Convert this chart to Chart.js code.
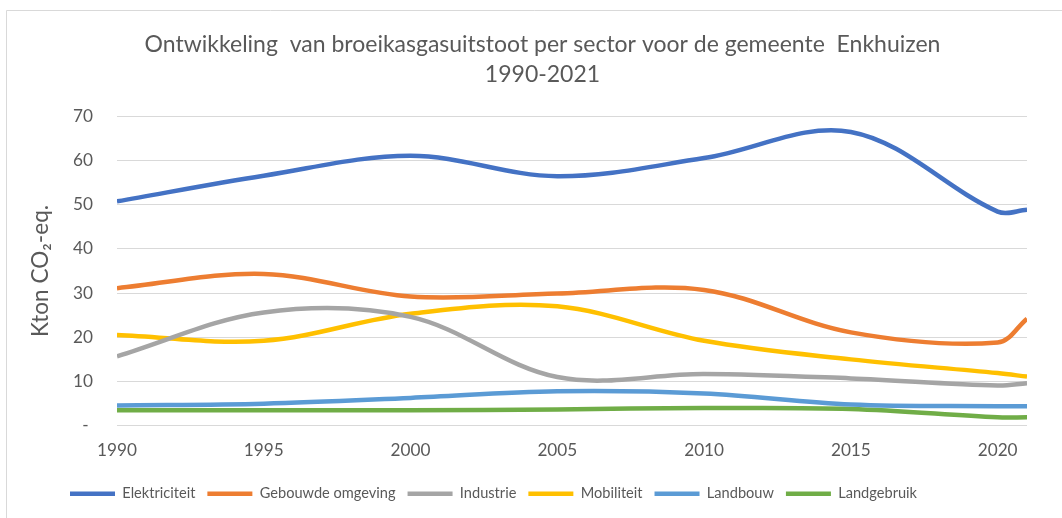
<!DOCTYPE html>
<html>
<head>
<meta charset="utf-8">
<script src="https://cdn.jsdelivr.net/npm/chart.js@4"></script>
<style>
html,body{margin:0;padding:0;background:#fff;}
#wrap{width:1062px;height:518px;position:relative;}
</style>
</head>
<body>
<div id="wrap"><canvas id="c" width="1062" height="518"></canvas></div>
<script>
// ---- data ----
const years = [1990, 1995, 2000, 2005, 2010, 2015, 2020, 2021];
const elektriciteit = [50.7, 56.5, 61.0, 56.4, 60.5, 66.4, 48.4, 48.8];
const gebouwdeOmgeving = [31.1, 34.3, 29.2, 29.9, 30.7, 21.1, 18.8, 24.2];
const industrie = [15.7, 25.6, 24.6, 11.0, 11.7, 10.7, 9.1, 9.6];
const mobiliteit = [20.5, 19.2, 25.3, 27.0, 19.2, 15.0, 11.9, 11.1];
const landbouw = [4.6, 5.0, 6.3, 7.8, 7.3, 4.8, 4.4, 4.4];
const landgebruik = [3.5, 3.5, 3.5, 3.7, 4.0, 3.8, 1.9, 1.9];
const seriesNames = ['Elektriciteit', 'Gebouwde omgeving', 'Industrie', 'Mobiliteit', 'Landbouw', 'Landgebruik'];
const xTickLabels = [1990, 1995, 2000, 2005, 2010, 2015, 2020];
const yTickLabels = [0, 10, 20, 30, 40, 50, 60, 70];
const titleLines = ['Ontwikkeling  van broeikasgasuitstoot per sector voor de gemeente  Enkhuizen', '1990-2021'];
const yTitle = 'Kton CO\u2082-eq.';

// ---- styling ----
const FONT = 'Lato';
const TEXT = '#595959';
const colors = ['#4472C4', '#ED7D31', '#A5A5A5', '#FFC000', '#5B9BD5', '#70AD47'];

function fitSize(text, target) {
  const ctx = document.createElement('canvas').getContext('2d');
  ctx.font = '100px ' + FONT;
  return Math.round(1000 * target / ctx.measureText(text).width) / 10;
}
const titleSize = fitSize(titleLines[0], 795);
const tickSize = fitSize('2010', 40);
const legendSize = fitSize('Gebouwde omgeving', 136);
const yTitleSize = fitSize(yTitle, 132);

const allSeries = [elektriciteit, gebouwdeOmgeving, industrie, mobiliteit, landbouw, landgebruik];
const datasets = allSeries.map((vals, i) => ({
  label: seriesNames[i],
  data: years.map((yr, j) => ({ x: yr, y: vals[j] })),
  borderColor: colors[i],
  backgroundColor: colors[i],
  borderWidth: 4.5,
  pointRadius: 0,
  pointHoverRadius: 0,
  fill: false,
  tension: 0.35
}));

const framePlugin = {
  id: 'frame',
  beforeDraw(chart) {
    const ctx = chart.ctx;
    ctx.save();
    ctx.fillStyle = '#ffffff';
    ctx.fillRect(0, 0, chart.width, chart.height);
    ctx.strokeStyle = '#d9d9d9';
    ctx.lineWidth = 1;
    ctx.beginPath();
    ctx.moveTo(6.5, chart.height);
    ctx.lineTo(6.5, 10.5);
    ctx.lineTo(chart.width, 10.5);
    ctx.stroke();
    ctx.restore();
  }
};

new Chart(document.getElementById('c'), {
  type: 'line',
  data: { datasets },
  options: {
    responsive: false,
    animation: false,
    devicePixelRatio: 1,
    layout: { padding: { left: 58, right: 35, top: 0, bottom: 7 } },
    plugins: {
      title: {
        display: true,
        text: titleLines,
        color: TEXT,
        font: { family: FONT, size: titleSize, weight: 'normal', lineHeight: 30 / titleSize },
        padding: { top: 30, bottom: 26 }
      },
      legend: {
        position: 'bottom',
        align: 'start',
        labels: {
          usePointStyle: true,
          pointStyle: 'line',
          pointStyleWidth: 45,
          boxHeight: 4,
          padding: 12,
          color: TEXT,
          font: { family: FONT, size: legendSize }
        }
      },
      tooltip: { enabled: false }
    },
    scales: {
      x: {
        type: 'linear',
        min: years[0],
        max: years[years.length - 1],
        afterBuildTicks(scale) { scale.ticks = xTickLabels.map(v => ({ value: v })); },
        grid: { display: false, drawTicks: false },
        border: { display: false },
        ticks: {
          color: TEXT,
          font: { family: FONT, size: tickSize },
          padding: 14,
          maxRotation: 0,
          autoSkip: false,
          callback: v => String(v)
        }
      },
      y: {
        min: yTickLabels[0],
        max: yTickLabels[yTickLabels.length - 1],
        afterBuildTicks(scale) { scale.ticks = yTickLabels.map(v => ({ value: v })); },
        afterFit(scale) { scale.width = 117 - 58; },
        grid: { color: '#d9d9d9', lineWidth: 1, drawTicks: false },
        border: { display: false },
        ticks: {
          color: TEXT,
          font: { family: FONT, size: tickSize },
          padding: 24,
          callback: v => (v === 0 ? '- ' : String(v))
        },
        title: {
          display: true,
          text: yTitle,
          color: TEXT,
          font: { family: FONT, size: yTitleSize, lineHeight: 1.2 },
          padding: { top: 41 - 58 - yTitleSize * 0.6, bottom: 0 }
        }
      }
    }
  },
  plugins: [framePlugin]
});
</script>
</body>
</html>
